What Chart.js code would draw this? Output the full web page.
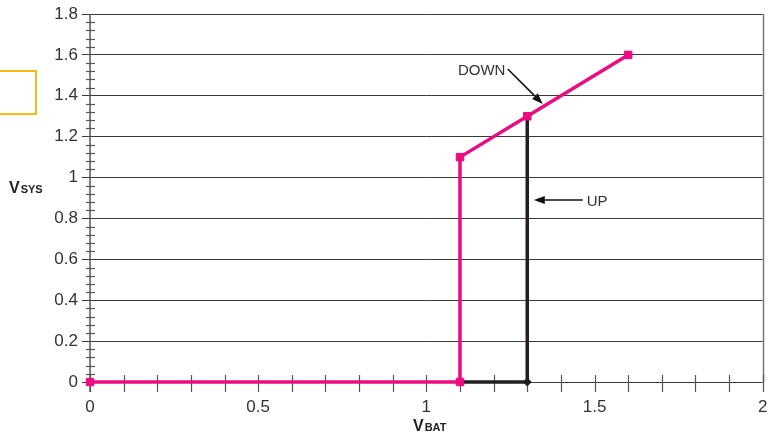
<!DOCTYPE html>
<html>
<head>
<meta charset="utf-8">
<script src="https://cdn.jsdelivr.net/npm/chart.js@4/dist/chart.umd.min.js"></script>
<style>
  html,body{margin:0;padding:0;background:#fff;overflow:hidden;}
  #wrap{position:relative;width:769px;height:433px;}
  #box{position:absolute;left:-10px;top:70px;width:43px;height:41px;border:2px solid #FDB913;}
  canvas{position:absolute;left:0;top:0;}
</style>
</head>
<body>
<div id="wrap">
  <canvas id="c" width="769" height="433"></canvas>
  <div id="box"></div>
</div>
<script>
// ---- data ----
const downX = [0, 1.1, 1.1, 1.3, 1.6];
const downY = [0, 0, 1.1, 1.3, 1.6];
const upX = [1.1, 1.3, 1.3];
const upY = [0, 0, 1.3];
const xTickValues = [0, 0.5, 1, 1.5, 2];
const yTickValues = [0, 0.2, 0.4, 0.6, 0.8, 1, 1.2, 1.4, 1.6, 1.8];
const xTitle = ['V', 'BAT'];
const yTitle = ['V', 'SYS'];
const notes = [
  {text: 'DOWN', tx: 1.094, ty: 1.521, from: [1.242, 1.531], to: [1.346, 1.360]},
  {text: 'UP', tx: 1.477, ty: 0.883, from: [1.465, 0.890], to: [1.3195, 0.890]}
];

const PINK = '#EC0B80';
const BLACK = '#231F20';
const AXIS = '#555';
const TXT = '#333';

const toPts = (xs, ys) => xs.map((x, i) => ({x, y: ys[i]}));

function arrow(ctx, x1, y1, x2, y2) {
  const ang = Math.atan2(y2 - y1, x2 - x1);
  const hl = 11, hw = 4;
  const bx = x2 - hl * Math.cos(ang), by = y2 - hl * Math.sin(ang);
  ctx.beginPath();
  ctx.moveTo(x1, y1);
  ctx.lineTo(bx, by);
  ctx.strokeStyle = '#111';
  ctx.lineWidth = 1.6;
  ctx.stroke();
  ctx.beginPath();
  ctx.moveTo(x2, y2);
  ctx.lineTo(bx + hw * Math.sin(ang), by - hw * Math.cos(ang));
  ctx.lineTo(bx - hw * Math.sin(ang), by + hw * Math.cos(ang));
  ctx.closePath();
  ctx.fillStyle = '#111';
  ctx.fill();
}

function subTitle(ctx, parts, x, baseline, align) {
  const f1 = "bold 16px 'Liberation Sans Narrow', 'Liberation Sans', Arial, sans-serif";
  const f2 = "bold 11px 'Liberation Sans Narrow', 'Liberation Sans', Arial, sans-serif";
  ctx.font = f1; const w1 = ctx.measureText(parts[0]).width;
  ctx.font = f2; const w2 = ctx.measureText(parts[1]).width;
  let sx = align === 'center' ? x - (w1 + w2 + 1) / 2 : x;
  ctx.fillStyle = '#222';
  ctx.textBaseline = 'alphabetic';
  ctx.textAlign = 'left';
  ctx.font = f1; ctx.fillText(parts[0], sx, baseline);
  ctx.font = f2; ctx.fillText(parts[1], sx + w1 + 1, baseline);
}

const decor = {
  id: 'decor',
  beforeDatasetsDraw(chart) {
    const ctx = chart.ctx, xs = chart.scales.x, ys = chart.scales.y;
    const x0 = xs.getPixelForValue(0), y0 = ys.getPixelForValue(0);
    const x2 = xs.getPixelForValue(2), yTop = ys.getPixelForValue(1.8);
    ctx.save();
    // y axis line
    ctx.strokeStyle = AXIS;
    ctx.lineWidth = 1.5;
    ctx.beginPath();
    ctx.moveTo(x0, yTop);
    ctx.lineTo(x0, y0 + 10);
    ctx.stroke();
    // right border
    ctx.strokeStyle = '#777';
    ctx.lineWidth = 1.5;
    ctx.beginPath();
    ctx.moveTo(Math.round(x2) + 0.5, yTop);
    ctx.lineTo(Math.round(x2) + 0.5, y0);
    ctx.stroke();
    ctx.strokeStyle = AXIS;
    // y minor ticks
    ctx.lineWidth = 1.2;
    for (let i = 0; i <= 45; i++) {
      if (i % 5 === 0) continue;
      const py = Math.round(ys.getPixelForValue(i * 0.04)) + 0.5;
      ctx.beginPath();
      ctx.moveTo(x0 - 4, py);
      ctx.lineTo(x0 + 5, py);
      ctx.stroke();
    }
    // x ticks every 0.1
    for (let i = 0; i <= 20; i++) {
      const px = Math.round(xs.getPixelForValue(i * 0.1)) + 0.5;
      ctx.beginPath();
      ctx.moveTo(px, y0 - 7);
      ctx.lineTo(px, y0 + 10);
      ctx.stroke();
    }
    ctx.restore();
  },
  afterDatasetsDraw(chart) {
    const ctx = chart.ctx, xs = chart.scales.x, ys = chart.scales.y;
    ctx.save();
    notes.forEach(n => {
      arrow(ctx, xs.getPixelForValue(n.from[0]), ys.getPixelForValue(n.from[1]),
                 xs.getPixelForValue(n.to[0]), ys.getPixelForValue(n.to[1]));
      ctx.fillStyle = TXT;
      ctx.font = "15px 'Liberation Sans', Arial, sans-serif";
      ctx.textAlign = 'left';
      ctx.textBaseline = 'middle';
      ctx.fillText(n.text, xs.getPixelForValue(n.tx), ys.getPixelForValue(n.ty));
    });
    subTitle(ctx, yTitle, 9, 193, 'left');
    subTitle(ctx, xTitle, xs.getPixelForValue(1.01), 431, 'center');
    ctx.restore();
  }
};

new Chart(document.getElementById('c'), {
  type: 'scatter',
  data: {
    datasets: [
      {
        label: 'DOWN',
        data: toPts(downX, downY),
        showLine: true,
        clip: false,
        borderColor: PINK,
        backgroundColor: PINK,
        borderWidth: 3.5,
        pointStyle: 'rect',
        pointRadius: 5.3,
        pointBorderWidth: 1,
        pointBackgroundColor: PINK,
        pointBorderColor: PINK,
        tension: 0
      },
      {
        label: 'UP',
        data: toPts(upX, upY),
        showLine: true,
        clip: false,
        borderColor: BLACK,
        backgroundColor: BLACK,
        borderWidth: 3.5,
        pointStyle: 'rectRot',
        pointRadius: [0, 4.5, 0],
        pointBorderWidth: 0,
        pointBackgroundColor: BLACK,
        tension: 0
      }
    ]
  },
  options: {
    responsive: false,
    animation: false,
    devicePixelRatio: 1,
    layout: {padding: {top: 14, right: 6, left: 0, bottom: 0}},
    plugins: {legend: {display: false}, tooltip: {enabled: false}},
    scales: {
      x: {
        type: 'linear',
        min: 0, max: 2,
        afterBuildTicks: s => { s.ticks = xTickValues.map(v => ({value: v})); },
        afterFit: s => { s.height = 51; s.paddingLeft = 0; s.paddingRight = 0; },
        grid: {display: true, drawOnChartArea: false, drawTicks: true, tickLength: 10, color: 'rgba(0,0,0,0)'},
        border: {display: false},
        ticks: {
          padding: 5,
          color: TXT,
          font: {family: "'Liberation Sans', Arial, sans-serif", size: 17},
          callback: v => String(v),
          maxRotation: 0,
          autoSkip: false
        }
      },
      y: {
        type: 'linear',
        min: 0, max: 1.8,
        afterBuildTicks: s => { s.ticks = yTickValues.map(v => ({value: v})); },
        afterFit: s => { s.width = 90; s.paddingTop = 0; s.paddingBottom = 0; },
        grid: {color: '#3a3a3a', lineWidth: 1, drawTicks: true, tickLength: 8},
        border: {display: false},
        ticks: {
          padding: 4,
          color: TXT,
          font: {family: "'Liberation Sans', Arial, sans-serif", size: 17},
          callback: v => String(v),
          autoSkip: false
        }
      }
    }
  },
  plugins: [decor]
});
</script>
</body>
</html>
